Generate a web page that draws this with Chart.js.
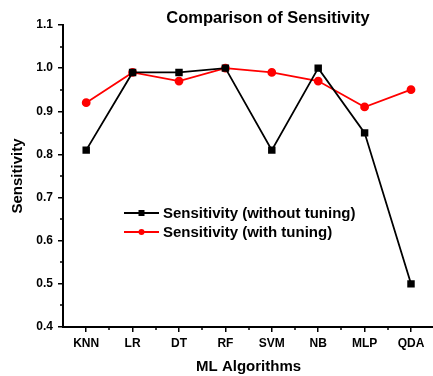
<!DOCTYPE html>
<html lang="en">
<head>
    <meta charset="UTF-8">
    <title>Comparison of Sensitivity</title>
    <style>
        html, body { margin: 0; padding: 0; overflow: hidden; background: #fff; }
        #wrap { width: 440px; height: 376px; }
    </style>
    <script src="https://cdn.jsdelivr.net/npm/chart.js"></script>
</head>
<body>
    <div id="wrap"><canvas id="sensChart" width="440" height="376"></canvas></div>

    <script>
        // Data
        const algorithms = ['KNN', 'LR', 'DT', 'RF', 'SVM', 'NB', 'MLP', 'QDA'];
        const withoutTuning = [0.81, 0.99, 0.99, 1.00, 0.81, 1.00, 0.85, 0.50];
        const withTuning = [0.92, 0.99, 0.97, 1.00, 0.99, 0.97, 0.91, 0.95];
        const yTicks = [0.4, 0.5, 0.6, 0.7, 0.8, 0.9, 1.0, 1.1];

        const FONT = '"Liberation Sans", Arial, sans-serif';

        // minor ticks, title and the in-plot legend
        const extras = {
            id: 'extras',
            afterDraw(chart) {
                const ctx = chart.ctx;
                const x = chart.scales.x, y = chart.scales.y;
                ctx.save();
                ctx.strokeStyle = '#000';
                ctx.lineWidth = 1.5;
                // minor ticks on x, between categories
                for (let i = 0; i < algorithms.length - 1; i++) {
                    const px = Math.round(x.getPixelForValue(i + 0.5));
                    ctx.beginPath();
                    ctx.moveTo(px, x.top);
                    ctx.lineTo(px, x.top + 3);
                    ctx.stroke();
                }
                // minor ticks on y
                for (let i = 0; i < yTicks.length - 1; i++) {
                    const py = Math.round(y.getPixelForValue(yTicks[i] + 0.05));
                    ctx.beginPath();
                    ctx.moveTo(y.right - 3, py);
                    ctx.lineTo(y.right, py);
                    ctx.stroke();
                }

                // title
                ctx.fillStyle = '#000';
                ctx.font = 'bold 16.5px ' + FONT;
                ctx.textAlign = 'center';
                ctx.textBaseline = 'middle';
                ctx.fillText('Comparison of Sensitivity', 268, 18);

                // legend
                ctx.textAlign = 'left';
                ctx.font = 'bold 15px ' + FONT;
                const rows = [213, 232];
                chart.data.datasets.forEach((ds, i) => {
                    const ly = rows[i];
                    ctx.strokeStyle = ds.borderColor;
                    ctx.lineWidth = 1.8;
                    ctx.beginPath();
                    ctx.moveTo(124, ly);
                    ctx.lineTo(159, ly);
                    ctx.stroke();
                    ctx.fillStyle = ds.borderColor;
                    if (ds.pointStyle === 'rect') {
                        ctx.fillRect(138.5, ly - 3, 6, 6);
                    } else {
                        ctx.beginPath();
                        ctx.arc(141.5, ly, 3, 0, Math.PI * 2);
                        ctx.fill();
                    }
                    ctx.fillStyle = '#000';
                    ctx.fillText(ds.label, 163, ly + 1);
                });
                ctx.restore();
            }
        };

        new Chart(document.getElementById('sensChart'), {
            type: 'line',
            data: {
                labels: algorithms,
                datasets: [
                    {
                        label: 'Sensitivity (without tuning)',
                        data: withoutTuning,
                        borderColor: '#000',
                        backgroundColor: '#000',
                        borderWidth: 1.8,
                        pointStyle: 'rect',
                        pointRadius: 4,
                        tension: 0
                    },
                    {
                        label: 'Sensitivity (with tuning)',
                        data: withTuning,
                        borderColor: '#ff0000',
                        backgroundColor: '#ff0000',
                        borderWidth: 1.8,
                        pointStyle: 'circle',
                        pointRadius: 3.5,
                        tension: 0
                    }
                ]
            },
            options: {
                responsive: false,
                animation: false,
                devicePixelRatio: 1,
                layout: { padding: { top: 25, right: 4, left: 0, bottom: 0 } },
                plugins: {
                    legend: { display: false },
                    title: { display: false },
                    tooltip: { enabled: false }
                },
                scales: {
                    x: {
                        type: 'category',
                        offset: true,
                        grid: { drawOnChartArea: false, offset: false, tickLength: 5, color: '#000', lineWidth: 1.5 },
                        border: { display: true, color: '#000', width: 2 },
                        ticks: { color: '#000', padding: 4, font: { family: FONT, size: 12, weight: 'bold' } },
                        title: { display: true, text: 'ML Algorithms', color: '#000', padding: { top: 0, bottom: 0 }, font: { family: FONT, size: 15, weight: 'bold' } },
                        afterFit(scale) { scale.height = 49; }
                    },
                    y: {
                        min: 0.4,
                        max: 1.1,
                        grid: { drawOnChartArea: false, tickLength: 5, color: '#000', lineWidth: 1.5 },
                        border: { display: true, color: '#000', width: 2 },
                        afterBuildTicks(scale) { scale.ticks = yTicks.map(v => ({ value: v })); },
                        ticks: {
                            color: '#000',
                            padding: 5,
                            font: { family: FONT, size: 12, weight: 'bold' },
                            callback: v => v.toFixed(1)
                        },
                        title: { display: true, text: 'Sensitivity', color: '#000', padding: { top: 9, bottom: 0 }, font: { family: FONT, size: 15, weight: 'bold' } },
                        afterFit(scale) { scale.width = 63; }
                    }
                }
            },
            plugins: [extras]
        });
    </script>
</body>
</html>
